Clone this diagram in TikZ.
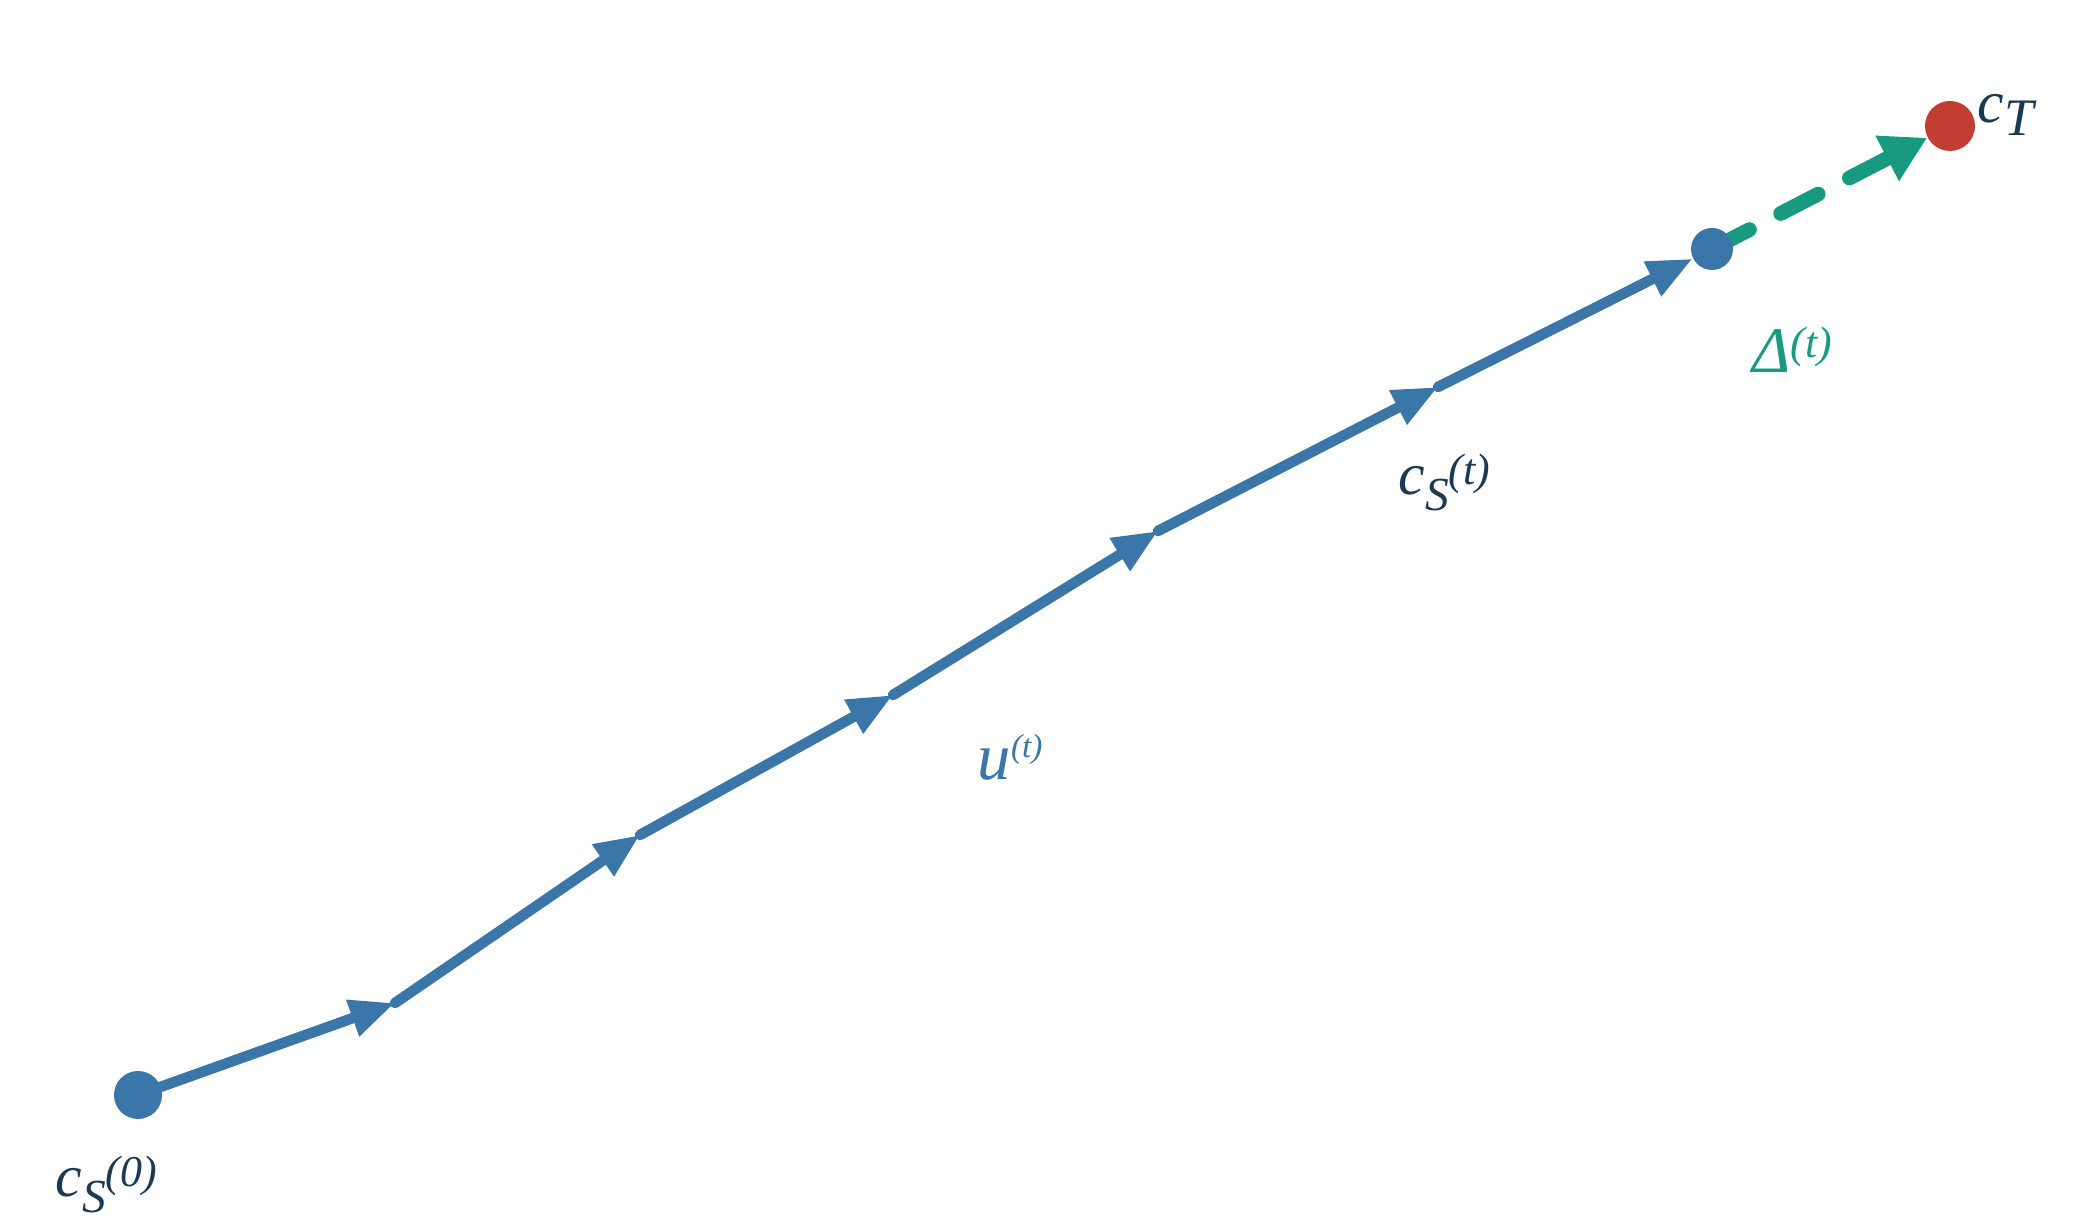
\documentclass[tikz,border=0pt]{standalone}
\usepackage{fontspec}
\setmainfont{Liberation Serif}
\usetikzlibrary{arrows.meta,backgrounds}
\definecolor{pathblue}{HTML}{3A76A8}
\definecolor{targetred}{HTML}{C23E33}
\definecolor{deltagreen}{HTML}{179A80}
\definecolor{labelnavy}{HTML}{1A3A54}
\tikzset{
  ptdot/.style={circle,fill=#1,inner sep=0pt,minimum size=0.46cm},
  stepseg/.style={pathblue,line width=3pt,line cap=round,
    -{Triangle[length=0.45cm,width=0.36cm]}},
  deltaseg/.style={deltagreen,line width=4.2pt,line cap=round,
    dash pattern=on 12pt off 10pt,
    -{Triangle[length=0.45cm,width=0.48cm]}},
  lab/.style={inner sep=0pt,anchor=base west,font=\itshape}
}
\newcommand{\fsz}[1]{\fontsize{#1}{#1}\selectfont}
\newcommand{\cslab}[1]{\fsz{17}c\raisebox{-4.3pt}{\fsz{13.5}S\raisebox{7.3pt}{\fsz{12.5}(#1)}}}
\begin{document}
\begin{tikzpicture}
\useasboundingbox (0,0) rectangle (21,12.3);
% points of the path
\node[ptdot=pathblue,minimum size=0.48cm] (s0) at (1.38,1.35) {};
\coordinate (k1) at (3.95,2.27);
\coordinate (k2) at (6.40,3.95);
\coordinate (k3) at (8.93,5.35);
\coordinate (k4) at (11.58,6.99);
\coordinate (k5) at (14.38,8.43);
\node[ptdot=pathblue,minimum size=0.42cm] (st) at (17.12,9.81) {};
\node[ptdot=targetred,minimum size=0.5cm] (tg) at (19.50,11.04) {};
% steps
\begin{scope}[on background layer]
\draw[stepseg] (s0.center) -- (k1);
\draw[stepseg] (k1) -- (k2);
\draw[stepseg] (k2) -- (k3);
\draw[stepseg] (k3) -- (k4);
\draw[stepseg] (k4) -- (k5);
\draw[stepseg] (k5) -- (st);
\draw[deltaseg] (st.center) -- (tg);
\end{scope}
% labels
\node[lab,labelnavy] (l0) at (0.55,0.33) {\cslab{0}};
\node[lab,labelnavy] (lt) at (13.98,7.35) {\cslab{t}};
\node[lab,pathblue] (lu) at (9.77,4.50) {\fsz{19}u\raisebox{6.3pt}{\fsz{9.5}(t)}};
\node[lab,deltagreen] (ld) at (17.52,8.57) {\fsz{18.5}Δ\raisebox{4.5pt}{\fsz{12.5}(t)}};
\node[lab,labelnavy] (lT) at (19.77,11.07) {\fsz{17}c\raisebox{-3.6pt}{\fsz{15}T}};
\end{tikzpicture}
\end{document}
